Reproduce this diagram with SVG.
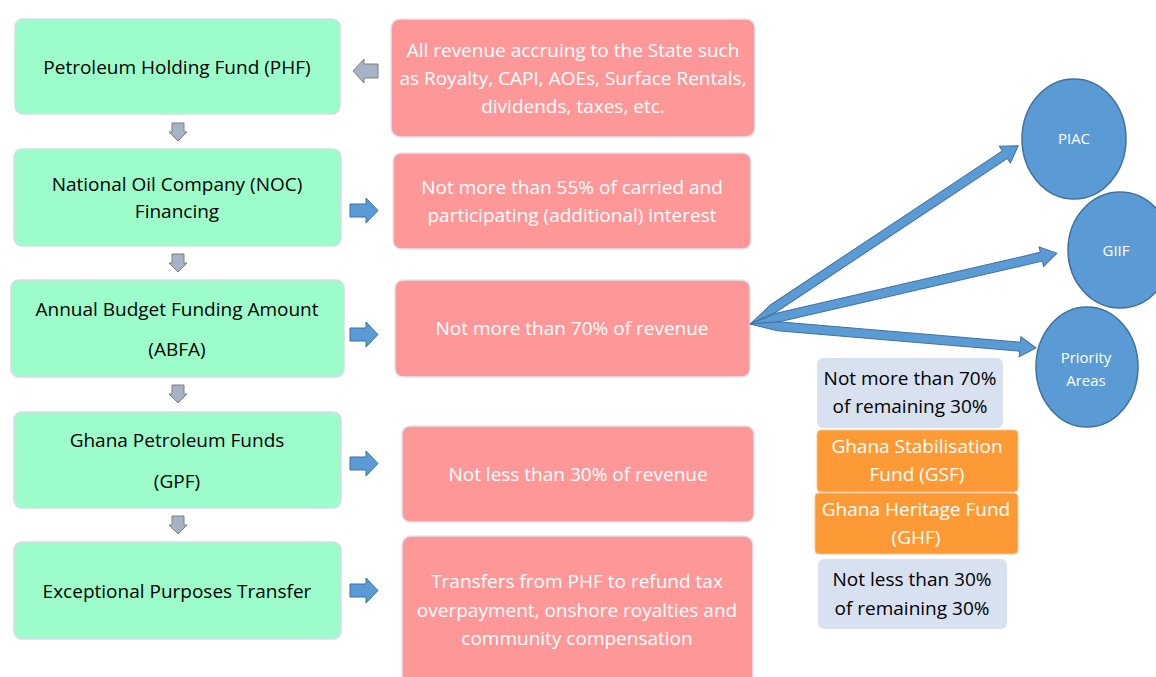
<svg xmlns="http://www.w3.org/2000/svg" width="1156" height="677" viewBox="0 0 1156 677">
  <style>
    .green { fill: #9cfdcb; stroke: #d3dcec; stroke-width: 1.5; }
    .pink { fill: #fe9898; stroke: #dfe6f0; stroke-width: 1.5; }
    .light { fill: #d7e1f0; }
    .orange { fill: #fe9a36; stroke: #f3c595; stroke-width: 1; }
    .circle { fill: #5b9bd5; stroke: #41719c; stroke-width: 1.5; }
    .grey-arrow { fill: #a6b3c6; stroke: #7f7f7f; stroke-width: 1; }
    .blue-arrow { fill: #5b9bd5; stroke: #41719c; stroke-width: 1; }
    text { font-family: "Open Sans", "Noto Sans", "DejaVu Sans", sans-serif; text-anchor: middle; }
    .dark { fill: #000000; font-size: 19px; }
    .white { fill: #ffffff; font-size: 19px; }
    .side { font-size: 19px; }
    .small { fill: #ffffff; font-size: 15px; }
  </style>

  <!-- Left column: fund flow -->
  <g id="phf">
    <rect class="green" x="15" y="19" width="325" height="95" rx="8"/>
    <text class="dark" x="177" y="74">Petroleum Holding Fund (PHF)</text>
  </g>
  <g id="noc">
    <rect class="green" x="14" y="149" width="327" height="97" rx="8"/>
    <text class="dark" x="177" y="191">National Oil Company (NOC)</text>
    <text class="dark" x="177" y="218">Financing</text>
  </g>
  <g id="abfa">
    <rect class="green" x="11" y="280" width="333" height="97" rx="8"/>
    <text class="dark" x="177" y="316">Annual Budget Funding Amount</text>
    <text class="dark" x="177" y="356">(ABFA)</text>
  </g>
  <g id="gpf">
    <rect class="green" x="14" y="412" width="327" height="96" rx="8"/>
    <text class="dark" x="177" y="447">Ghana Petroleum Funds</text>
    <text class="dark" x="177" y="488">(GPF)</text>
  </g>
  <g id="ept">
    <rect class="green" x="14" y="542" width="327" height="97" rx="8"/>
    <text class="dark" x="177" y="598">Exceptional Purposes Transfer</text>
  </g>

  <!-- Middle column: descriptions -->
  <g id="revenue">
    <rect class="pink" x="391" y="19" width="364" height="118" rx="9"/>
    <text class="white" x="573" y="57">All revenue accruing to the State such</text>
    <text class="white" x="573" y="85">as Royalty, CAPI, AOEs, Surface Rentals,</text>
    <text class="white" x="573" y="113">dividends, taxes, etc.</text>
  </g>
  <g id="noc-share">
    <rect class="pink" x="393" y="153" width="358" height="96" rx="8"/>
    <text class="white" x="572" y="194">Not more than 55% of carried and</text>
    <text class="white" x="572" y="222">participating (additional) interest</text>
  </g>
  <g id="abfa-share">
    <rect class="pink" x="395" y="280" width="355" height="97" rx="8"/>
    <text class="white" x="572" y="335">Not more than 70% of revenue</text>
  </g>
  <g id="gpf-share">
    <rect class="pink" x="402" y="426" width="352" height="96" rx="8"/>
    <text class="white" x="578" y="481">Not less than 30% of revenue</text>
  </g>
  <g id="ept-detail">
    <rect class="pink" x="402" y="536" width="351" height="150" rx="9"/>
    <text class="white" x="577" y="588">Transfers from PHF to refund tax</text>
    <text class="white" x="577" y="617">overpayment, onshore royalties and</text>
    <text class="white" x="577" y="645">community compensation</text>
  </g>

  <!-- Right side: ABFA uses -->
  <g id="piac">
    <ellipse class="circle" cx="1074" cy="139" rx="52" ry="60"/>
    <text class="small" x="1074" y="144">PIAC</text>
  </g>
  <g id="giif">
    <ellipse class="circle" cx="1120" cy="250" rx="52" ry="58"/>
    <text class="small" x="1116" y="256">GIIF</text>
  </g>
  <g id="priority">
    <ellipse class="circle" cx="1087" cy="367" rx="51" ry="60"/>
    <text class="small" x="1086" y="363">Priority</text>
    <text class="small" x="1086" y="386">Areas</text>
  </g>

  <!-- Right side: GPF split -->
  <g id="gsf-share">
    <rect class="light" x="817" y="358" width="186" height="70" rx="6"/>
    <text class="dark side" x="910" y="385">Not more than 70%</text>
    <text class="dark side" x="910" y="413">of remaining 30%</text>
  </g>
  <g id="gsf">
    <rect class="orange" x="817" y="430" width="201" height="62" rx="4"/>
    <text class="white side" x="917" y="453">Ghana Stabilisation</text>
    <text class="white side" x="917" y="481">Fund (GSF)</text>
  </g>
  <g id="ghf">
    <rect class="orange" x="815" y="493" width="203" height="61" rx="4"/>
    <text class="white side" x="916" y="516">Ghana Heritage Fund</text>
    <text class="white side" x="916" y="544">(GHF)</text>
  </g>
  <g id="ghf-share">
    <rect class="light" x="818" y="559" width="189" height="70" rx="6"/>
    <text class="dark side" x="912" y="586">Not less than 30%</text>
    <text class="dark side" x="912" y="615">of remaining 30%</text>
  </g>

  <!-- Connectors -->
  <g id="connectors">
    <!-- revenue into PHF -->
    <polygon class="grey-arrow" points="353,71 364,59 364,64 378,64 378,78 364,78 364,83"/>
    <!-- downward flow between left boxes -->
    <polygon class="grey-arrow" points="172,123 184,123 184,132 187,132 178,141 169,132 172,132"/>
    <polygon class="grey-arrow" points="172,254 184,254 184,263 187,263 178,272 169,263 172,263"/>
    <polygon class="grey-arrow" points="172,385 184,385 184,394 187,394 178,403 169,394 172,394"/>
    <polygon class="grey-arrow" points="172,516 184,516 184,525 187,525 178,534 169,525 172,525"/>
    <!-- left boxes to their descriptions -->
    <polygon class="blue-arrow" points="350,204 366,204 366,198 378,210.5 366,223 366,217 350,217"/>
    <polygon class="blue-arrow" points="350,328 366,328 366,322 378,334.5 366,347 366,341 350,341"/>
    <polygon class="blue-arrow" points="350,457 366,457 366,451 378,463.5 366,476 366,470 350,470"/>
    <polygon class="blue-arrow" points="350,584 366,584 366,578 378,590.5 366,603 366,597 350,597"/>
    <!-- ABFA fan-out: three block arrows sharing one tail point -->
    <g transform="translate(750,324) rotate(-33.6)">
      <polygon class="blue-arrow" points="0,0 28,-4.5 306,-4.5 306,-10 322,0 306,10 306,4.5 28,4.5"/>
    </g>
    <g transform="translate(750,324) rotate(-13)">
      <polygon class="blue-arrow" points="0,0 28,-4.5 299,-4.5 299,-10 315,0 299,10 299,4.5 28,4.5"/>
    </g>
    <g transform="translate(750,324) rotate(4.8)">
      <polygon class="blue-arrow" points="0,0 28,-4.5 271,-4.5 271,-10 287,0 271,10 271,4.5 28,4.5"/>
    </g>
  </g>
</svg>
